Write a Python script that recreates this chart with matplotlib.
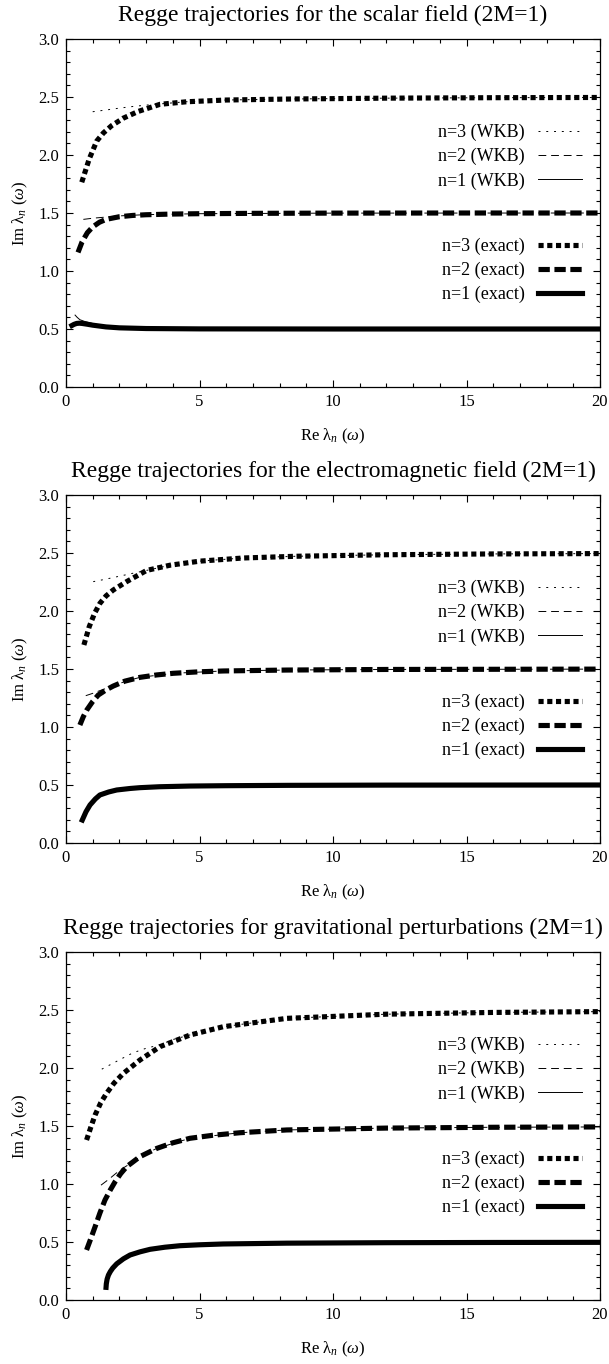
import matplotlib
matplotlib.use("Agg")
import matplotlib.pyplot as plt
from matplotlib.ticker import MultipleLocator

plt.rcParams['font.family'] = ['Liberation Serif', 'DejaVu Serif']
plt.rcParams['mathtext.fontset'] = 'custom'
plt.rcParams['mathtext.rm'] = 'Liberation Serif'
plt.rcParams['mathtext.it'] = 'Liberation Serif:italic'

titles = [
    "Regge trajectories for the scalar field (2M=1)",
    "Regge trajectories for the electromagnetic field (2M=1)",
    "Regge trajectories for gravitational perturbations (2M=1)",
]

# --- scalar field ---
s_ex1_x = [0.22, 0.3, 0.4, 0.5, 0.6, 0.8, 1.0, 1.5, 2.0, 3.0, 5.0, 10.0, 20.0]
s_ex1_y = [0.530, 0.540, 0.548, 0.550, 0.548, 0.541, 0.533, 0.518, 0.510, 0.504, 0.501, 0.500, 0.500]
s_ex2_x = [0.45, 0.6, 0.8, 1.0, 1.25, 1.5, 2.0, 2.5, 3.0, 4.0, 5.0, 7.0, 10.0, 15.0, 20.0]
s_ex2_y = [1.16, 1.25, 1.33, 1.38, 1.42, 1.445, 1.468, 1.479, 1.485, 1.491, 1.494, 1.497, 1.499, 1.5, 1.5]
s_ex3_x = [0.59, 0.87, 1.15, 1.4, 1.71, 2.15, 2.71, 3.52, 4.52, 6.0, 8.5, 12.0, 16.0, 20.0]
s_ex3_y = [1.765, 1.966, 2.12, 2.19, 2.253, 2.318, 2.376, 2.437, 2.459, 2.474, 2.483, 2.49, 2.494, 2.496]
s_wkb1_x = [0.34, 0.42, 0.52, 0.7, 0.9, 1.2, 1.5, 2.0, 3.0, 5.0, 10.0, 20.0]
s_wkb1_y = [0.62, 0.60, 0.58, 0.565, 0.553, 0.535, 0.522, 0.512, 0.505, 0.501, 0.500, 0.500]
s_wkb2_x = [0.65, 1.0, 1.5, 2.0, 3.0, 5.0, 10.0, 20.0]
s_wkb2_y = [1.445, 1.455, 1.465, 1.475, 1.486, 1.494, 1.499, 1.5]
s_wkb3_x = [1.0, 1.5, 2.0, 2.5, 3.0, 3.5, 4.5, 6.0, 8.5, 12.0, 16.0, 20.0]
s_wkb3_y = [2.373, 2.388, 2.404, 2.418, 2.43, 2.44, 2.459, 2.474, 2.483, 2.49, 2.494, 2.496]

# --- electromagnetic field ---
e_ex1_x = [0.61, 0.75, 0.9, 1.1, 1.27, 1.6, 1.9, 2.4, 2.77, 3.5, 4.64, 6.0, 8.3, 12.0, 20.0]
e_ex1_y = [0.198, 0.27, 0.328, 0.38, 0.414, 0.44, 0.457, 0.47, 0.477, 0.485, 0.491, 0.494, 0.497, 0.499, 0.5]
e_ex2_x = [0.52, 0.65, 0.78, 1.0, 1.21, 1.5, 1.77, 2.2, 2.77, 3.4, 4.02, 5.0, 5.9, 8.27, 12.0, 20.0]
e_ex2_y = [1.017, 1.09, 1.147, 1.22, 1.276, 1.32, 1.353, 1.395, 1.428, 1.449, 1.463, 1.476, 1.483, 1.491, 1.496, 1.499]
e_ex3_x = [0.67, 0.87, 1.07, 1.27, 1.5, 1.77, 2.27, 3.02, 3.9, 5.02, 6.64, 8.64, 12.0, 16.0, 20.0]
e_ex3_y = [1.707, 1.865, 1.98, 2.066, 2.13, 2.181, 2.253, 2.35, 2.395, 2.43, 2.457, 2.472, 2.485, 2.492, 2.495]
e_wkb1_x = [0.75, 0.9, 1.27, 1.9, 2.77, 4.64, 8.3, 20.0]
e_wkb1_y = [0.28, 0.33, 0.415, 0.458, 0.477, 0.491, 0.497, 0.5]
e_wkb2_x = [0.74, 1.0, 1.25, 1.52, 1.8, 2.2, 2.77, 4.02, 5.9, 8.27, 12.0, 20.0]
e_wkb2_y = [1.27, 1.29, 1.312, 1.334, 1.356, 1.392, 1.428, 1.463, 1.483, 1.491, 1.496, 1.499]
e_wkb3_x = [1.02, 1.5, 2.0, 2.5, 3.02, 3.9, 5.02, 6.64, 8.64, 12.0, 16.0, 20.0]
e_wkb3_y = [2.253, 2.275, 2.3, 2.325, 2.35, 2.395, 2.43, 2.457, 2.472, 2.485, 2.492, 2.495]

# --- gravitational perturbations ---
g_ex1_x = [1.5, 1.51, 1.54, 1.59, 1.66, 1.75, 1.9, 2.15, 2.4, 2.77, 3.15, 3.7, 4.27, 5.0, 5.89, 8.27, 12.0, 16.0, 20.0]
g_ex1_y = [0.109, 0.14, 0.18, 0.215, 0.245, 0.275, 0.312, 0.355, 0.388, 0.415, 0.437, 0.455, 0.468, 0.476, 0.483, 0.49, 0.494, 0.496, 0.497]
g_ex2_x = [0.77, 0.93, 1.09, 1.27, 1.46, 1.65, 1.84, 2.05, 2.27, 2.77, 3.4, 4.0, 4.64, 5.5, 6.52, 8.27, 12.0, 16.0, 20.0]
g_ex2_y = [0.431, 0.53, 0.632, 0.75, 0.862, 0.945, 1.02, 1.09, 1.149, 1.236, 1.307, 1.355, 1.394, 1.42, 1.442, 1.466, 1.482, 1.489, 1.492]
g_ex3_x = [0.77, 0.93, 1.09, 1.3, 1.52, 1.8, 2.15, 2.77, 3.52, 4.64, 5.89, 8.27, 12.0, 16.0, 20.0]
g_ex3_y = [1.379, 1.49, 1.595, 1.7, 1.782, 1.87, 1.954, 2.069, 2.184, 2.284, 2.356, 2.428, 2.464, 2.479, 2.486]
g_wkb1_x = [1.9, 2.4, 3.15, 4.27, 5.89, 8.27, 12.0, 20.0]
g_wkb1_y = [0.312, 0.388, 0.437, 0.468, 0.483, 0.49, 0.494, 0.497]
g_wkb2_x = [1.31, 1.6, 2.02, 2.4, 2.77, 3.4, 4.64, 6.52, 8.27, 12.0, 16.0, 20.0]
g_wkb2_y = [0.99, 1.04, 1.12, 1.175, 1.236, 1.307, 1.394, 1.442, 1.466, 1.482, 1.489, 1.492]
g_wkb3_x = [1.34, 2.0, 2.5, 3.0, 3.52, 4.0, 4.64, 5.89, 8.27, 12.0, 16.0, 20.0]
g_wkb3_y = [1.99, 2.07, 2.13, 2.17, 2.2, 2.245, 2.285, 2.356, 2.428, 2.464, 2.479, 2.486]

panels = [
    ((s_ex1_x, s_ex1_y), (s_ex2_x, s_ex2_y), (s_ex3_x, s_ex3_y),
     (s_wkb1_x, s_wkb1_y), (s_wkb2_x, s_wkb2_y), (s_wkb3_x, s_wkb3_y)),
    ((e_ex1_x, e_ex1_y), (e_ex2_x, e_ex2_y), (e_ex3_x, e_ex3_y),
     (e_wkb1_x, e_wkb1_y), (e_wkb2_x, e_wkb2_y), (e_wkb3_x, e_wkb3_y)),
    ((g_ex1_x, g_ex1_y), (g_ex2_x, g_ex2_y), (g_ex3_x, g_ex3_y),
     (g_wkb1_x, g_wkb1_y), (g_wkb2_x, g_wkb2_y), (g_wkb3_x, g_wkb3_y)),
]

EX_LW = 3.7
WKB_LW = 0.7
ex_styles = ['-', (0, (2.2, 0.9)), (0, (1.0, 0.7))]
wkb_styles = ['-', (0, (8, 5)), (0, (2, 6))]


def plot_panel(ax, title, curves):
    ex = curves[:3]
    wkb = curves[3:]
    wkb_lines = []
    ex_lines = []
    for i in range(3):
        l, = ax.plot(wkb[i][0], wkb[i][1], color='black', lw=WKB_LW,
                     linestyle=wkb_styles[i], label=f"n={i+1} (WKB)", zorder=3)
        wkb_lines.append(l)
    for i in range(3):
        l, = ax.plot(ex[i][0], ex[i][1], color='black', lw=EX_LW,
                     linestyle=ex_styles[i], label=f"n={i+1} (exact)", zorder=2)
        ex_lines.append(l)

    ax.set_xlim(0, 20)
    ax.set_ylim(0, 3)
    ax.xaxis.set_major_locator(MultipleLocator(5))
    ax.xaxis.set_minor_locator(MultipleLocator(1))
    ax.yaxis.set_major_locator(MultipleLocator(0.5))
    ax.yaxis.set_minor_locator(MultipleLocator(0.1))
    ax.yaxis.set_major_formatter(lambda v, p: f"{v:.1f}")
    ax.tick_params(which='both', direction='in', top=True, right=True,
                   labelsize=12, width=0.8)
    ax.tick_params(which='major', length=5, pad=5)
    ax.tick_params(which='minor', length=3)
    for s in ax.spines.values():
        s.set_linewidth(0.9)

    ax.set_title(title, fontsize=17, pad=13)
    ax.set_xlabel(r"Re λ$_n$ ($\omega$)", fontsize=12, labelpad=12)
    ax.set_ylabel(r"Im λ$_n$ ($\omega$)", fontsize=12, labelpad=6)

    leg_kw = dict(loc='upper right', frameon=False, markerfirst=False,
                  fontsize=13, handlelength=2.45, handletextpad=0.72,
                  borderpad=0, borderaxespad=0, labelspacing=0.38)
    leg1 = ax.legend(handles=wkb_lines[::-1], bbox_to_anchor=(0.966, 0.756), **leg_kw)
    ax.add_artist(leg1)
    ax.legend(handles=ex_lines[::-1], bbox_to_anchor=(0.966, 0.429), **leg_kw)


def main():
    fig = plt.figure(figsize=(6.09, 13.64), dpi=100)
    left = 66 / 609
    width = (600 - 66) / 609
    height = 348 / 1364
    bottoms = [1 - 387 / 1364, 1 - 843 / 1364, 1 - 1300 / 1364]
    for title, curves, b in zip(titles, panels, bottoms):
        ax = fig.add_axes([left, b, width, height])
        plot_panel(ax, title, curves)
    fig.savefig("out.png", dpi=100)


if __name__ == "__main__":
    main()
